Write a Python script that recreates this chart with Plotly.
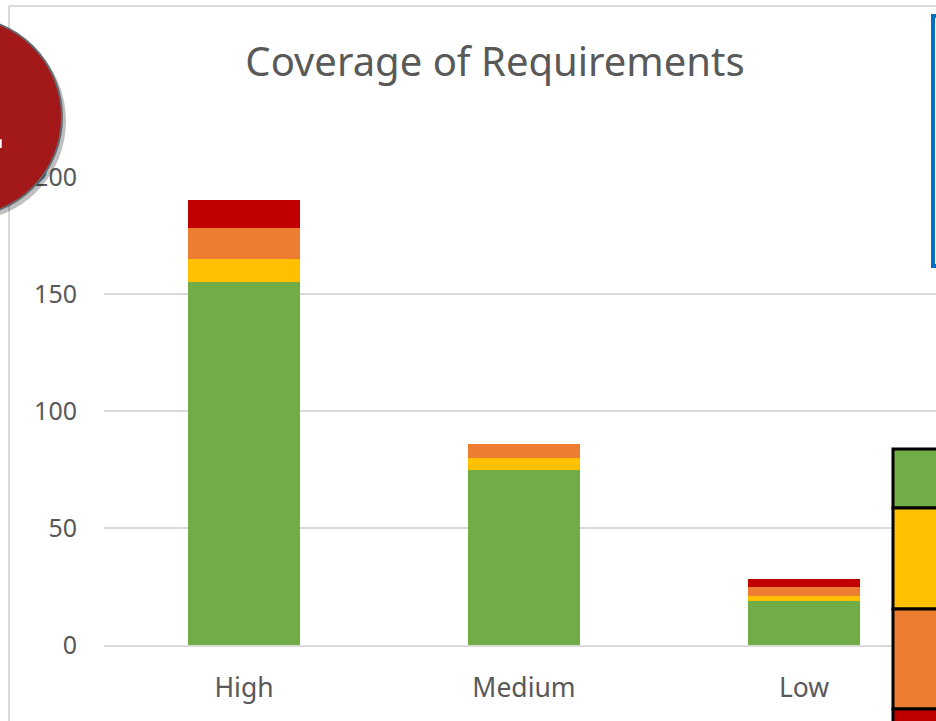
import plotly.graph_objects as go

# ---- data ----
categories = ["High", "Medium", "Low"]
covered = [155, 75, 19]        # green
partial = [10, 5, 2]           # yellow
weak = [13, 6, 4]              # orange
uncovered = [12, 0, 3]         # red
y_ticks = [0, 50, 100, 150, 200]

names = ["Covered", "Partially covered", "Weakly covered", "Not covered"]
colors = ["#70AD47", "#FFC000", "#ED7D31", "#C00000"]
values = [covered, partial, weak, uncovered]

W, H = 936, 721
L, T = 104, 177
R, B = 0, 721 - 645
PW, PH = W - L - R, H - T - B


def px(x):
    return (x - L) / PW


def py(y):
    return (H - B - y) / PH


fig = go.Figure()
for n, c, v in zip(names, colors, values):
    fig.add_trace(go.Bar(x=categories, y=v, name=n, marker=dict(color=c, line=dict(width=0))))

shapes = []
# outer chart border (top / left)
shapes.append(dict(type="line", xref="paper", yref="paper", x0=px(9), x1=px(940), y0=py(6), y1=py(6),
                   line=dict(color="#D9D9D9", width=2), layer="above"))
shapes.append(dict(type="line", xref="paper", yref="paper", x0=px(9), x1=px(9), y0=py(6), y1=py(730),
                   line=dict(color="#D9D9D9", width=2), layer="above"))
# red callout circle (shadow + circle)
shapes.append(dict(type="circle", xref="paper", yref="paper", x0=px(-134), x1=px(66), y0=py(221), y1=py(21),
                   fillcolor="rgba(0,0,0,0.25)", line=dict(width=0), layer="above"))
shapes.append(dict(type="circle", xref="paper", yref="paper", x0=px(-138), x1=px(62), y0=py(217), y1=py(17),
                   fillcolor="#A31919", line=dict(color="#5F6B73", width=2), layer="above"))
# blue box on top right
shapes.append(dict(type="rect", xref="paper", yref="paper", x0=px(933), x1=px(1000), y0=py(266), y1=py(16),
                   fillcolor="white", line=dict(color="#0070C0", width=4), layer="above"))
# colour key boxes bottom right
rows = [(449, 508), (508, 609), (609, 709), (709, 780)]
for (t, b), c in zip(rows, colors):
    shapes.append(dict(type="rect", xref="paper", yref="paper", x0=px(893), x1=px(1000), y0=py(b), y1=py(t),
                       fillcolor=c, line=dict(color="black", width=3), layer="above"))

fig.update_layout(
    width=W, height=H,
    margin=dict(l=L, r=R, t=T, b=B, pad=0),
    barmode="stack", bargap=0.6,
    showlegend=False,
    plot_bgcolor="white", paper_bgcolor="white",
    font=dict(family="Noto Sans", color="#595959", size=25),
    title=dict(text="Coverage of Requirements", x=495 / W, xanchor="center", xref="container",
               y=1 - 62 / H, yanchor="middle", yref="container",
               font=dict(family="Noto Sans", size=40, color="#595959")),
    xaxis=dict(range=[-0.5, 2.5 - 8 / 280], showgrid=False, showline=True, linecolor="#D9D9D9", linewidth=2,
               ticks="", ticklabelstandoff=18, tickfont=dict(size=26.5, color="#595959")),
    yaxis=dict(range=[0, 200], tickvals=y_ticks, showgrid=True, gridcolor="#D9D9D9", gridwidth=1.5,
               zeroline=False, showline=False, ticks="", ticklabelstandoff=26,
               tickfont=dict(size=25, color="#595959")),
    shapes=shapes,
    annotations=[dict(text="<b>1</b>", xref="paper", yref="paper", x=px(-17), y=py(125),
                      xanchor="center", yanchor="middle", showarrow=False,
                      font=dict(family="DejaVu Sans", size=68, color="white"))],
)

fig.write_html(
    "out.html",
    config={"displayModeBar": False},
    post_script="document.body.style.margin='0';document.body.style.overflow='hidden';",
)
